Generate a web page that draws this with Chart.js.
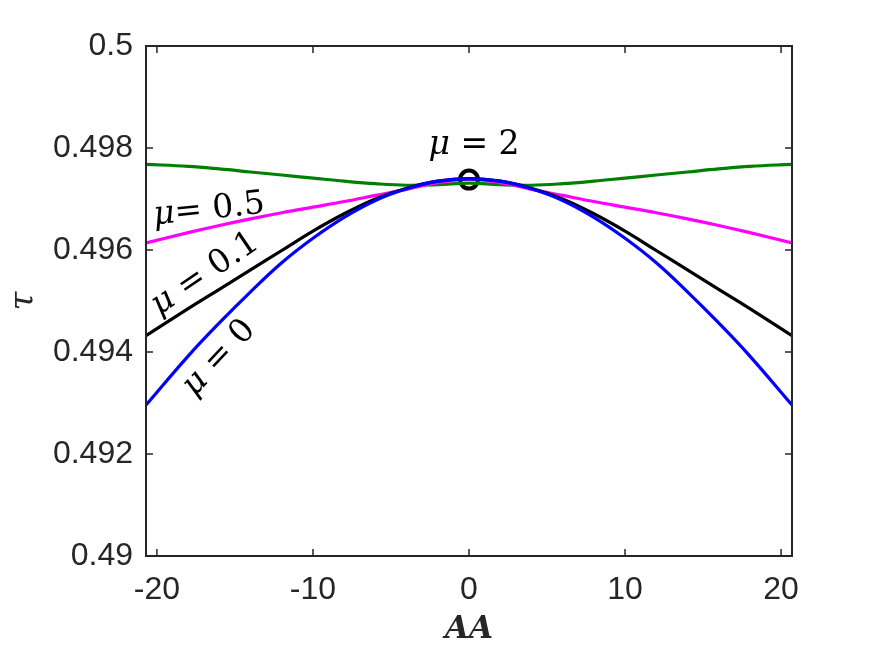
<!DOCTYPE html>
<html>
<head>
<meta charset="utf-8">
<script src="https://cdn.jsdelivr.net/npm/chart.js@4.4.1/dist/chart.umd.min.js"></script>
<style>
  html, body { margin: 0; padding: 0; background: #fff; }
  #wrap { width: 875px; height: 657px; position: relative; }
</style>
</head>
<body>
<div id="wrap"><canvas id="grafico" width="875" height="657"></canvas></div>
<script>
// valores
const aa = [-20.7, -18, -16, -14, -12, -10, -8, -6, -4, -2, 0, 2, 4, 6, 8, 10, 12, 14, 16, 18, 20.7];

const tauMu0 = [0.49296, 0.49392, 0.49457, 0.49518, 0.49575, 0.49623, 0.49664, 0.49697, 0.49720, 0.49735, 0.49740,
                0.49735, 0.49720, 0.49697, 0.49664, 0.49623, 0.49575, 0.49518, 0.49457, 0.49392, 0.49296];
const tauMu01 = [0.49432, 0.49485, 0.49523, 0.49561, 0.49599, 0.49637, 0.49671, 0.49700, 0.49721, 0.49735, 0.49740,
                 0.49735, 0.49721, 0.49700, 0.49671, 0.49637, 0.49599, 0.49561, 0.49523, 0.49485, 0.49432];
const tauMu05 = [0.49614, 0.49634, 0.49648, 0.49661, 0.49673, 0.49684, 0.49695, 0.49707, 0.49719, 0.49732, 0.49739,
                 0.49732, 0.49719, 0.49707, 0.49695, 0.49684, 0.49673, 0.49661, 0.49648, 0.49634, 0.49614];
const tauMu2 = [0.49768, 0.49764, 0.49759, 0.49753, 0.49747, 0.49741, 0.49735, 0.49730, 0.49727, 0.49728, 0.49731,
                0.49728, 0.49727, 0.49730, 0.49735, 0.49741, 0.49747, 0.49753, 0.49759, 0.49764, 0.49768];

const marcador = [{ x: 0, y: 0.49738 }];

const xTicks = [-20, -10, 0, 10, 20];
const yTicks = [0.49, 0.492, 0.494, 0.496, 0.498, 0.5];

function pontos(valores) {
  return aa.map((x, i) => ({ x: x, y: valores[i] }));
}

function serie(valores, cor) {
  return {
    data: pontos(valores),
    borderColor: cor,
    borderWidth: 3.2,
    pointRadius: 0,
    tension: 0.4,
    fill: false
  };
}

const corEixo = '#262626';

// caixa, ticks internos, titulos e anotacoes
const extras = {
  id: 'extras',
  afterDatasetsDraw(chart) {
    const ctx = chart.ctx;
    const a = chart.chartArea;
    const sx = chart.scales.x;
    const sy = chart.scales.y;
    ctx.save();
    ctx.strokeStyle = corEixo;
    ctx.lineWidth = 2;
    ctx.strokeRect(a.left, a.top, a.right - a.left, a.bottom - a.top);
    ctx.lineWidth = 1.5;
    xTicks.forEach(v => {
      const px = sx.getPixelForValue(v);
      ctx.beginPath();
      ctx.moveTo(px, a.bottom); ctx.lineTo(px, a.bottom - 7);
      ctx.moveTo(px, a.top); ctx.lineTo(px, a.top + 7);
      ctx.stroke();
    });
    yTicks.forEach(v => {
      const py = sy.getPixelForValue(v);
      ctx.beginPath();
      ctx.moveTo(a.left, py); ctx.lineTo(a.left + 7, py);
      ctx.moveTo(a.right, py); ctx.lineTo(a.right - 7, py);
      ctx.stroke();
    });

    // titulos dos eixos
    ctx.fillStyle = corEixo;
    ctx.textAlign = 'center';
    ctx.textBaseline = 'middle';
    ctx.font = 'bold italic 31px "DejaVu Serif"';
    ctx.fillText('AA', (a.left + a.right) / 2, 630);
    ctx.save();
    ctx.translate(24, (a.top + a.bottom) / 2);
    ctx.rotate(-Math.PI / 2);
    ctx.font = 'italic 34px "DejaVu Serif"';
    ctx.fillText('τ', 0, 0);
    ctx.restore();

    // anotacoes
    ctx.fillStyle = '#000';
    rotulo(ctx, 'μ', ' = 2', 474, 145, 0);
    rotulo(ctx, 'μ', '= 0.5', 209, 210, -6);
    rotulo(ctx, 'μ', ' = 0.1', 205, 274, -34);
    rotulo(ctx, 'μ', ' = 0', 219, 358, -47);
    ctx.restore();
  }
};

function rotulo(ctx, letra, resto, cx, cy, graus) {
  ctx.save();
  ctx.translate(cx, cy);
  ctx.rotate(graus * Math.PI / 180);
  ctx.textBaseline = 'middle';
  ctx.textAlign = 'left';
  const fonteLetra = 'italic 33px "DejaVu Serif"';
  const fonteResto = '33px "DejaVu Serif"';
  ctx.font = fonteLetra;
  const w1 = ctx.measureText(letra).width;
  ctx.font = fonteResto;
  const w2 = ctx.measureText(resto).width;
  const x0 = -(w1 + w2) / 2;
  ctx.font = fonteLetra;
  ctx.fillText(letra, x0, 0);
  ctx.font = fonteResto;
  ctx.fillText(resto, x0 + w1, 0);
  ctx.restore();
}

const ctx = document.getElementById('grafico').getContext('2d');
const grafico = new Chart(ctx, {
  type: 'line',
  data: {
    datasets: [
      serie(tauMu0, '#0000ff'),
      serie(tauMu01, '#000000'),
      serie(tauMu05, '#ff00ff'),
      serie(tauMu2, '#008000'),
      {
        data: marcador,
        showLine: false,
        pointRadius: 9,
        pointBorderWidth: 4,
        pointBorderColor: '#000',
        pointBackgroundColor: 'rgba(0,0,0,0)'
      }
    ]
  },
  options: {
    responsive: false,
    animation: false,
    layout: { padding: { left: 0, right: 83, top: 46, bottom: 0 } },
    plugins: { legend: { display: false }, tooltip: { enabled: false } },
    scales: {
      x: {
        type: 'linear',
        min: -20.7,
        max: 20.7,
        afterBuildTicks: s => { s.ticks = xTicks.map(v => ({ value: v })); },
        afterFit: s => { s.height = 101; },
        grid: { display: false, drawTicks: false },
        border: { display: false },
        ticks: {
          padding: 15,
          color: corEixo,
          font: { family: '"Liberation Sans", Arial', size: 32 },
          maxRotation: 0
        }
      },
      y: {
        type: 'linear',
        min: 0.49,
        max: 0.5,
        afterBuildTicks: s => { s.ticks = yTicks.map(v => ({ value: v })); },
        afterFit: s => { s.width = 146; },
        grid: { display: false, drawTicks: false },
        border: { display: false },
        ticks: {
          padding: 13,
          color: corEixo,
          font: { family: '"Liberation Sans", Arial', size: 32 },
          callback: v => String(Number(v.toFixed(3)))
        }
      }
    }
  },
  plugins: [extras]
});
</script>
</body>
</html>
